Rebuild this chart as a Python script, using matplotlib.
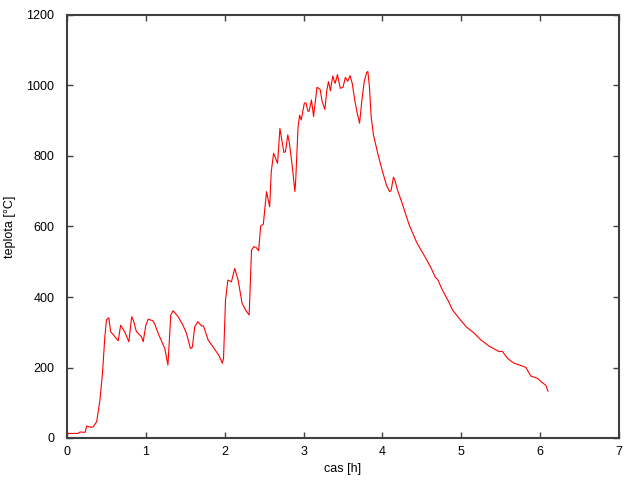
import matplotlib
matplotlib.use("Agg")
import matplotlib.pyplot as plt

time_h = [0.0, 0.14, 0.165, 0.23, 0.25, 0.29, 0.33, 0.376, 0.418, 0.45, 0.48, 0.50, 0.53,
          0.553, 0.61, 0.65, 0.68, 0.73, 0.785, 0.82, 0.84, 0.88, 0.945, 0.966, 1.0, 1.03,
          1.085, 1.11, 1.156, 1.24, 1.28, 1.316, 1.346, 1.41, 1.47, 1.515, 1.565, 1.59, 1.62,
          1.66, 1.705, 1.73, 1.79, 1.85, 1.93, 1.97, 1.985, 2.01, 2.04, 2.06, 2.085, 2.127,
          2.17, 2.22, 2.27, 2.31, 2.34, 2.37, 2.40, 2.43, 2.456, 2.49, 2.53, 2.57, 2.59,
          2.62, 2.67, 2.70, 2.75, 2.77, 2.80, 2.82, 2.857, 2.89, 2.90, 2.93, 2.95, 2.97,
          3.01, 3.03, 3.055, 3.07, 3.10, 3.127, 3.17, 3.21, 3.235, 3.27, 3.295, 3.316, 3.34,
          3.37, 3.40, 3.43, 3.465, 3.50, 3.53, 3.56, 3.59, 3.617, 3.645, 3.675, 3.71, 3.74,
          3.77, 3.80, 3.815, 3.835, 3.857, 3.886, 3.94, 3.996, 4.05, 4.09, 4.11, 4.14, 4.16,
          4.19, 4.25, 4.34, 4.43, 4.49, 4.55, 4.62, 4.67, 4.70, 4.76, 4.83, 4.89, 4.97, 5.06,
          5.165, 5.25, 5.35, 5.48, 5.52, 5.586, 5.67, 5.776, 5.82, 5.88, 5.97, 6.01, 6.07, 6.10]
temp_c = [13, 13, 17, 16, 34, 31, 31, 46, 108, 184, 287, 335, 341,
          302, 287, 276, 320, 302, 273, 344, 335, 302, 287, 273, 320, 337,
          333, 325, 297, 254, 207, 349, 361, 344, 320, 297, 254, 258, 316,
          330, 318, 318, 278, 259, 233, 212, 226, 391, 448, 446, 443, 481,
          448, 382, 361, 349, 533, 543, 540, 531, 601, 607, 699, 656, 755,
          808, 779, 878, 810, 812, 860, 837, 770, 699, 730, 883, 916, 902,
          950, 951, 927, 927, 959, 912, 995, 989, 955, 932, 987, 1011, 985,
          1027, 1006, 1031, 992, 995, 1023, 1012, 1028, 1006, 964, 927, 893, 959,
          1012, 1037, 1040, 997, 912, 860, 808, 760, 718, 699, 702, 740, 730,
          704, 666, 604, 557, 533, 510, 481, 456, 450, 420, 391, 363, 340, 316,
          297, 278, 261, 245, 246, 226, 212, 204, 200, 176, 169, 160, 150, 133]

x_ticks = [0, 1, 2, 3, 4, 5, 6, 7]
y_ticks = [0, 200, 400, 600, 800, 1000, 1200]

plt.rcParams['font.family'] = ['Liberation Sans', 'DejaVu Sans']
fig = plt.figure(figsize=(6.4, 4.8), dpi=100)
ax = fig.add_axes([67/640, 42/480, 552/640, 423/480])
ax.plot(time_h, temp_c, color='#ff0000', linewidth=0.8)
ax.set_xlim(0, 7)
ax.set_ylim(0, 1200)
ax.set_xticks(x_ticks)
ax.set_yticks(y_ticks)
ax.tick_params(direction='in', length=4, width=1, colors='#404040', labelcolor='black',
               labelsize=9, top=True, right=True)
ax.tick_params(axis='y', pad=9)
ax.tick_params(axis='x', pad=6)
for s in ax.spines.values():
    s.set_color('#404040')
    s.set_linewidth(1.5)
ax.set_xlabel('cas [h]', fontsize=9)
ax.set_ylabel('teplota [°C]', fontsize=9)
ax.xaxis.set_label_coords(0.5, -0.058)
ax.yaxis.set_label_coords(-0.093, 0.5)
fig.savefig('out.png', dpi=100)
